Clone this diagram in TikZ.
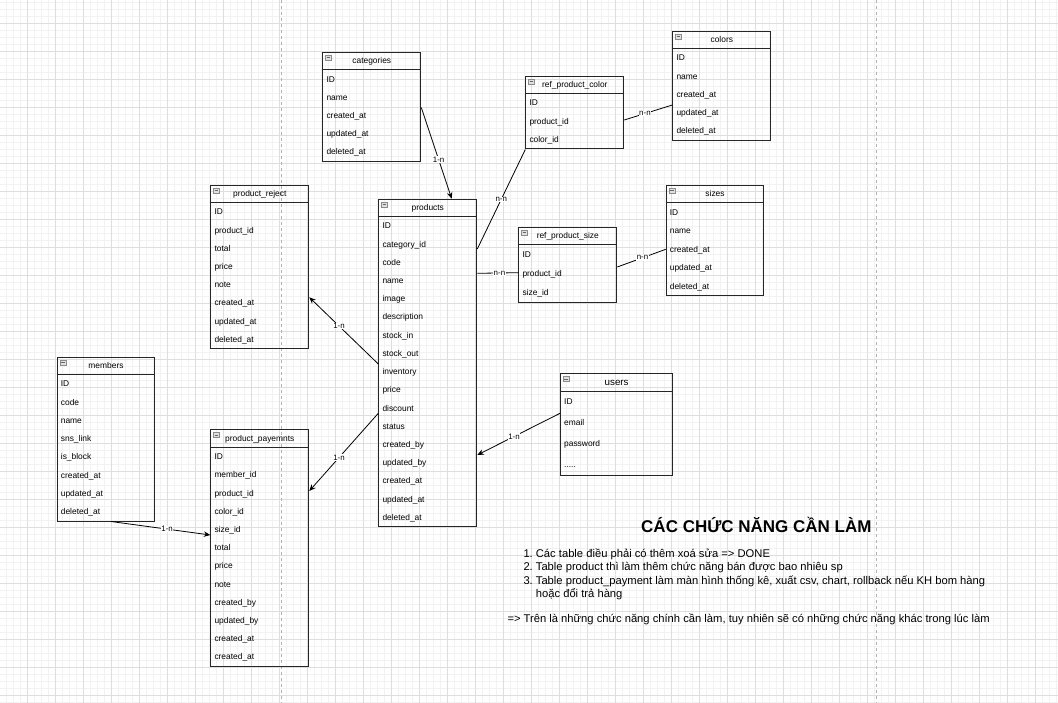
\documentclass[tikz,border=0pt]{standalone}
\usepackage{fontspec}
\setmainfont{Liberation Sans}
\usetikzlibrary{arrows.meta,calc}

\tikzset{
  minorgrid/.style={draw=black!5, line width=0.5pt},
  majorgrid/.style={draw=black!13, line width=0.6pt},
  pageline/.style={draw=black!30, dash pattern=on 3pt off 3pt, line width=0.6pt},
  tablebox/.style={draw=black!85, line width=1pt, inner sep=0pt, anchor=north west},
  tableline/.style={draw=black!85, line width=1pt},
  headtext/.style={inner sep=0pt, anchor=base, text=black},
  rowtext/.style={font=\fontsize{8.4}{10}\selectfont, inner sep=0pt, anchor=base west, text=black},
  iconbox/.style={draw=black!45, fill=black!12, line width=0.4pt, minimum width=6pt,
    minimum height=5pt, inner sep=0pt, anchor=north west,
    path picture={\draw[black!60, line width=0.5pt]
      ([xshift=1.2pt]path picture bounding box.west) -- ([xshift=-1.2pt]path picture bounding box.east);}},
  relation/.style={draw=black, line width=0.8pt},
  relarrow/.style={relation, -{Stealth[length=6.5pt,width=5.5pt]}},
  rellabel/.style={font=\fontsize{7.9}{9}\selectfont, fill=white, inner sep=0.6pt, text=black},
  listtext/.style={font=\fontsize{11.2}{13}\selectfont, inner sep=0pt, anchor=base west},
}

\newcommand\erdots{.....}

% #1 name, #2 x, #3 y, #4 width, #5 row height, #6 rows count, #7 title, #8 rows, #9 title size
\newcommand\ertable[9]{%
  \node[tablebox, minimum width=#4pt, minimum height={18.2pt+#5pt*#6}] (#1) at (#2,#3) {};
  \draw[tableline] ([yshift=-18.2pt]#1.north west) -- ([yshift=-18.2pt]#1.north east);
  \node[iconbox] (#1-icon) at ([xshift=3pt,yshift=-3pt]#1.north west) {};
  \node[headtext, font=\fontsize{#9}{#9}\selectfont] (#1-title)
    at ([yshift={-9.1pt-0.36*#9pt}]#1.north) {#7};
  \foreach \r [count=\i] in {#8} {
    \node[rowtext] (#1-r\i) at ([xshift=4pt,yshift={-18.2pt-(\i-0.5)*#5pt-3pt}]#1.north west) {\r};
  }%
}

\begin{document}
\begin{tikzpicture}[x=1pt,y=-1pt]
\useasboundingbox (0,0) rectangle (1058,703);
\fill[white] (0,0) rectangle (1058,703);
\begin{scope}
\clip (0,0) rectangle (1058,703);
\draw[minorgrid] \foreach \k in {0,...,151} {({6.3+7*\k},0) -- ++(0,703)};
\draw[minorgrid] \foreach \k in {0,...,100} {(0,{2.3+7*\k}) -- ++(1058,0)};
\draw[majorgrid] \foreach \k in {0,...,37} {({27.3+28*\k},0) -- ++(0,703)};
\draw[majorgrid] \foreach \k in {0,...,24} {(0,{23.3+28*\k}) -- ++(1058,0)};
\draw[pageline] (281,0) -- (281,703);
\draw[pageline] (876,0) -- (876,703);
\end{scope}

\ertable{categories}{322.3}{51.8}{98}{18.2}{5}{categories}{ID,name,created\_at,updated\_at,deleted\_at}{8.4}
\ertable{colors}{672.3}{30.7}{98}{18.2}{5}{colors}{ID,name,created\_at,updated\_at,deleted\_at}{8.4}
\ertable{refcolor}{525.3}{75.7}{98}{18.2}{3}{ref\_product\_color}{ID,product\_id,color\_id}{8.4}
\ertable{sizes}{665.7}{184.7}{97.6}{18.5}{5}{sizes}{ID,name,created\_at,updated\_at,deleted\_at}{8.4}
\ertable{refsize}{518.3}{226.7}{98}{19}{3}{ref\_product\_size}{ID,product\_id,size\_id}{8.4}
\ertable{products}{378.3}{198.7}{98}{18.2}{17}{products}{ID,category\_id,code,name,image,description,stock\_in,stock\_out,inventory,price,discount,status,created\_by,updated\_by,created\_at,updated\_at,deleted\_at}{8.4}
\ertable{reject}{210.3}{184.7}{98}{18.2}{8}{product\_reject}{ID,product\_id,total,price,note,created\_at,updated\_at,deleted\_at}{8.4}
\ertable{members}{56.7}{356.7}{97.6}{18.2}{8}{members}{ID,code,name,sns\_link,is\_block,created\_at,updated\_at,deleted\_at}{8.4}
\ertable{payments}{210.3}{429.3}{98}{18.2}{12}{product\_payemnts}{ID,member\_id,product\_id,color\_id,size\_id,total,price,note,created\_by,updated\_by,created\_at,created\_at}{8.4}
\ertable{users}{560}{373.3}{112.3}{20.9}{4}{users}{ID,email,password,\erdots}{9.8}

% relations
\draw[relarrow] ([yshift=-55.7pt]categories.north east) -- node[rellabel, pos=0.57] (lab1) {1-n} ([xshift=73.4pt]products.north west);
\draw[relation] ([yshift=-50.3pt]products.north east) -- node[rellabel, pos=0.5] (lab2) {n-n} (refcolor.south west);
\draw[relation] ([yshift=-44.3pt]refcolor.north east) -- node[rellabel, pos=0.43] (lab3) {n-n} ([yshift=-74.3pt]colors.north west);
\draw[relation] ([yshift=-74.6pt]products.north east) -- node[rellabel, pos=0.54] (lab4) {n-n} ([yshift=-46pt]refsize.north west);
\draw[relation] ([yshift=-40.3pt]refsize.north east) -- node[rellabel, pos=0.52] (lab5) {n-n} ([yshift=-64.6pt]sizes.north west);
\draw[relarrow] ([yshift=-165.3pt]products.north west) -- node[rellabel, pos=0.57] (lab6) {1-n} ([yshift=-112.6pt]reject.north east);
\draw[relarrow] ([yshift=-214.6pt]products.north west) -- node[rellabel, pos=0.57] (lab7) {1-n} ([yshift=-61.7pt]payments.north east);
\draw[relarrow] ([yshift=-40pt]users.north west) -- node[rellabel, pos=0.556] (lab8) {1-n} ([yshift=-256.3pt]products.north east);
\draw[relarrow] ([xshift=54.3pt]members.south west) -- node[rellabel, pos=0.565] (lab9) {1-n} ([yshift=-105.7pt]payments.north west);

% notes
\node[font=\fontsize{17}{20}\selectfont\bfseries, inner sep=0pt, anchor=base] (title) at (756.4,532.3) {CÁC CHỨC NĂNG CẦN LÀM};
\node[listtext] (n1) at (523.3,557.5) {1.};
\node[listtext] (t1) at (535.7,557.5) {Các table điều phải có thêm xoá sửa => DONE};
\node[listtext] (n2) at (523.3,570.8) {2.};
\node[listtext] (t2) at (535.7,570.8) {Table product thì làm thêm chức năng bán được bao nhiêu sp};
\node[listtext] (n3) at (523.3,584.1) {3.};
\node[listtext] (t3) at (535.7,584.1) {Table product\_payment làm màn hình thống kê, xuất csv, chart, rollback nếu KH bom hàng};
\node[listtext] (t4) at (535.7,597.4) {hoặc đổi trả hàng};
\node[listtext] (t5) at (507.3,622) {=> Trên là những chức năng chính cần làm, tuy nhiên sẽ có những chức năng khác trong lúc làm};
\end{tikzpicture}
\end{document}
